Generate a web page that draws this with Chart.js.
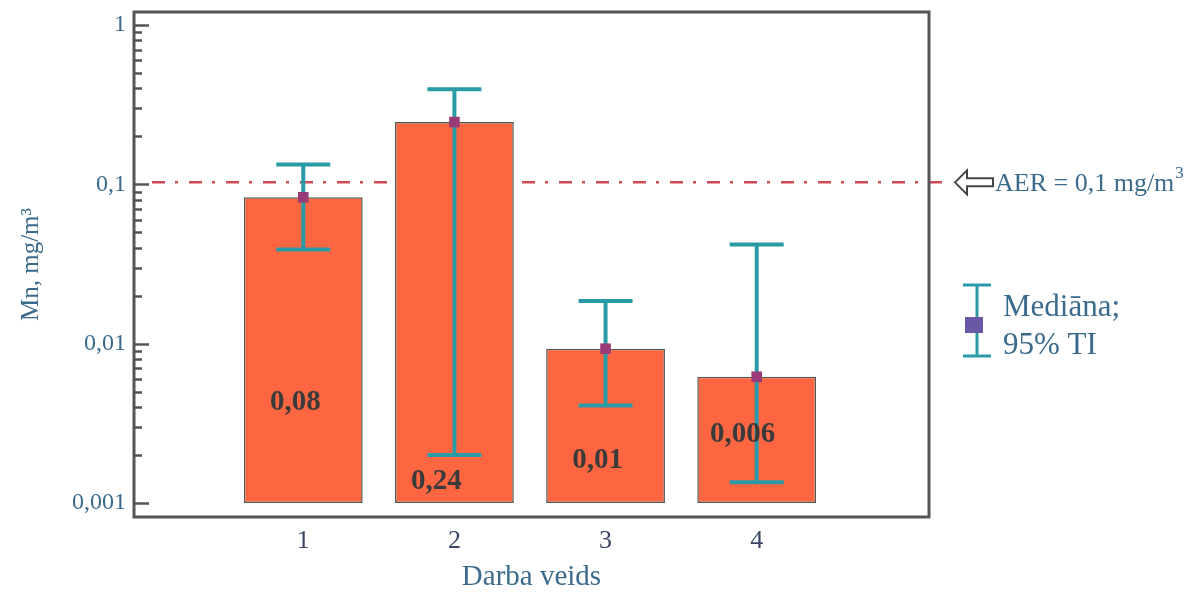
<!DOCTYPE html>
<html>
<head>
<meta charset="utf-8">
<script src="https://cdn.jsdelivr.net/npm/chart.js@4.4.1/dist/chart.umd.min.js"></script>
<style>
  html, body { margin: 0; padding: 0; background: #fff; }
</style>
</head>
<body>
<canvas id="mnChart" width="1193" height="592"></canvas>
<script>
// data
const workTypes = [1, 2, 3, 4];
const medians = [0.083, 0.246, 0.0093, 0.0062];
const ciLow = [0.039, 0.0020, 0.0041, 0.00135];
const ciHigh = [0.133, 0.395, 0.0185, 0.042];
const medianText = ["0,08", "0,24", "0,01", "0,006"];
const yTickValues = [0.001, 0.01, 0.1, 1];
const barBase = 0.001;
const aerLimit = 0.1;

const serif = "'Liberation Serif', 'Times New Roman', serif";
const blueText = "#3b6b8c";
const teal = "#2a9aa7";

const decor = {
  id: "decor",
  beforeDatasetsDraw(chart) {
    const { ctx, chartArea: a, scales: { y } } = chart;
    ctx.save();
    // inner ticks of the log axis
    ctx.strokeStyle = "#555";
    ctx.lineWidth = 2.5;
    for (let e = -3; e <= 0; e++) {
      for (let m = 1; m <= 9; m++) {
        const v = m * Math.pow(10, e);
        if (v > y.max) break;
        const py = Math.round(y.getPixelForValue(v)) + 0.5;
        ctx.beginPath();
        ctx.moveTo(a.left, py);
        ctx.lineTo(a.left + (m === 1 ? 15 : 8), py);
        ctx.stroke();
      }
    }
    // AER limit line
    const py = y.getPixelForValue(aerLimit) - 2;
    ctx.strokeStyle = "#cf4a57";
    ctx.lineWidth = 2.5;
    ctx.setLineDash([13, 10, 3, 11]);
    ctx.beginPath();
    ctx.moveTo(a.left + 18, py);
    ctx.lineTo(a.right + 22, py);
    ctx.stroke();
    ctx.restore();
  },
  afterDatasetDraw(chart, args) {
    if (args.index !== 0) return;
    const { ctx, scales: { x, y } } = chart;
    ctx.save();
    ctx.strokeStyle = teal;
    ctx.lineWidth = 4;
    workTypes.forEach((w, i) => {
      const px = x.getPixelForValue(w);
      const top = y.getPixelForValue(ciHigh[i]);
      const bot = y.getPixelForValue(ciLow[i]);
      ctx.beginPath();
      ctx.moveTo(px, top); ctx.lineTo(px, bot);
      ctx.moveTo(px - 27, top); ctx.lineTo(px + 27, top);
      ctx.moveTo(px - 27, bot); ctx.lineTo(px + 27, bot);
      ctx.stroke();
    });
    ctx.restore();
  },
  afterDraw(chart, args, opts) {
    const { ctx, chartArea: a, scales: { x, y } } = chart;
    ctx.save();
    // frame
    ctx.strokeStyle = "#555";
    ctx.lineWidth = 3;
    ctx.strokeRect(a.left, a.top, a.right - a.left, a.bottom - a.top);

    // value labels inside bars
    ctx.fillStyle = "#3a3a3a";
    ctx.font = "bold 29px " + serif;
    ctx.textAlign = "center";
    ctx.textBaseline = "middle";
    const base = y.getPixelForValue(barBase);
    medianText.forEach((t, i) => {
      const [dx, dy] = opts.labelOffsets[i];
      ctx.fillText(t, x.getPixelForValue(workTypes[i]) + dx, base - dy);
    });

    // arrow + AER text
    const ay = y.getPixelForValue(aerLimit) - 2;
    const tip = a.right + 26;
    ctx.beginPath();
    ctx.moveTo(tip, ay);
    ctx.lineTo(tip + 12, ay - 12);
    ctx.lineTo(tip + 12, ay - 4);
    ctx.lineTo(tip + 38, ay - 4);
    ctx.lineTo(tip + 38, ay + 4);
    ctx.lineTo(tip + 12, ay + 4);
    ctx.lineTo(tip + 12, ay + 12);
    ctx.closePath();
    ctx.fillStyle = "#fff";
    ctx.fill();
    ctx.strokeStyle = "#444";
    ctx.lineWidth = 2;
    ctx.stroke();

    ctx.fillStyle = blueText;
    ctx.textAlign = "left";
    ctx.textBaseline = "alphabetic";
    ctx.font = "26px " + serif;
    const aerText = "AER = 0,1 mg/m";
    ctx.fillText(aerText, tip + 40, ay + 9);
    const w = ctx.measureText(aerText).width;
    ctx.font = "17px " + serif;
    ctx.fillText("3", tip + 41 + w, ay - 4);

    // legend
    const lx = a.right + 48;
    ctx.strokeStyle = teal;
    ctx.lineWidth = 3;
    ctx.beginPath();
    ctx.moveTo(lx, 285); ctx.lineTo(lx, 356);
    ctx.moveTo(lx - 14, 285); ctx.lineTo(lx + 14, 285);
    ctx.moveTo(lx - 14, 356); ctx.lineTo(lx + 14, 356);
    ctx.stroke();
    ctx.fillStyle = "#6a58a4";
    ctx.fillRect(lx - 12, 317, 18, 16);
    ctx.fillStyle = blueText;
    ctx.font = "31px " + serif;
    ctx.textBaseline = "middle";
    ctx.fillText("Mediāna;", lx + 26, 308);
    ctx.fillText("95% TI", lx + 26, 346);
    ctx.restore();
  }
};

new Chart(document.getElementById("mnChart"), {
  type: "bar",
  data: {
    datasets: [
      {
        type: "bar",
        label: "Mn",
        data: workTypes.map((w, i) => ({ x: w, y: [barBase, medians[i]] })),
        backgroundColor: "#fe6641",
        borderColor: "#4e5c55",
        borderWidth: 1.5,
        borderSkipped: false,
        barPercentage: 0.786,
        categoryPercentage: 1,
        order: 2
      },
      {
        type: "line",
        label: "Mediāna",
        data: workTypes.map((w, i) => ({ x: w, y: medians[i] })),
        showLine: false,
        pointStyle: "rect",
        pointRadius: 7.5,
        pointBackgroundColor: "#9a3a76",
        pointBorderWidth: 0,
        order: 1
      }
    ]
  },
  options: {
    responsive: false,
    animation: false,
    devicePixelRatio: 1,
    layout: { padding: { left: 0, right: 264, top: 12, bottom: 0 } },
    plugins: {
      legend: { display: false },
      tooltip: { enabled: false },
      decor: { labelOffsets: [[-8, 100], [-18, 21], [-8, 42], [-14, 68]] }
    },
    scales: {
      x: {
        type: "linear",
        min: -0.12,
        max: 5.14,
        offset: false,
        grid: { display: false, drawTicks: false },
        border: { display: false },
        afterBuildTicks: (s) => { s.ticks = workTypes.map((v) => ({ value: v })); },
        afterFit: (s) => { s.height = 75; s.paddingLeft = 0; s.paddingRight = 0; },
        ticks: { padding: 9, color: "#3a4663", font: { family: serif, size: 26 }, autoSkip: false, maxRotation: 0 },
        title: { display: true, text: "Darba veids", color: blueText, font: { family: serif, size: 29, lineHeight: 1 }, padding: { top: 0, bottom: 0 } }
      },
      y: {
        type: "logarithmic",
        min: 0.000817,
        max: 1.207,
        bounds: "data",
        grid: { display: false, drawTicks: false },
        border: { display: false },
        afterBuildTicks: (s) => { s.ticks = yTickValues.map((v) => ({ value: v, major: true })); },
        afterFit: (s) => { s.width = 134; s.paddingTop = 0; s.paddingBottom = 0; },
        ticks: {
          padding: 8,
          autoSkip: false,
          color: blueText,
          font: { family: serif, size: 24 },
          callback: (v) => String(v).replace(".", ",")
        },
        title: { display: true, text: "Mn, mg/m³", color: blueText, font: { family: serif, size: 25 }, padding: { top: 16, bottom: 0 } }
      }
    }
  },
  plugins: [decor]
});
</script>
</body>
</html>
